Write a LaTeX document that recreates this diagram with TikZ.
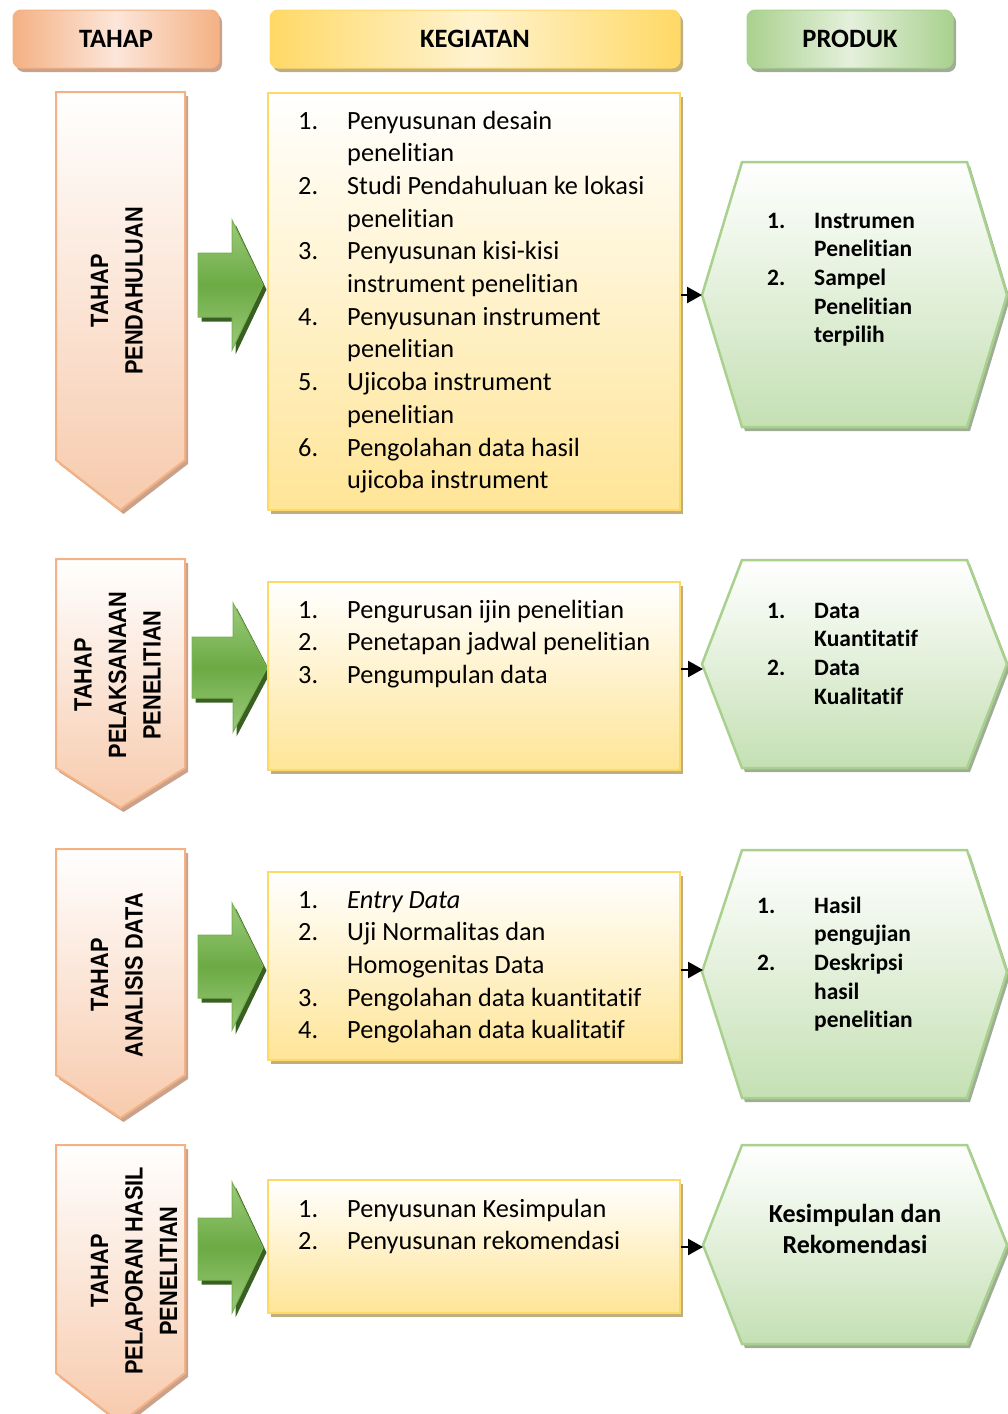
\documentclass[tikz,border=0pt]{standalone}
\usepackage{fontspec}
\setmainfont{Carlito}[RawFeature={-liga;-clig;-calt;-dlig}]
\newfontfamily\tahapfont[FakeStretch=0.87]{Liberation Sans}
\usetikzlibrary{arrows.meta,shadows}
\definecolor{orE}{HTML}{F4B183}
\definecolor{orL}{HTML}{FCE6DA}
\definecolor{orB}{HTML}{F7CAAC}
\definecolor{orS}{HTML}{C8A28C}
\definecolor{ylE}{HTML}{FFD966}
\definecolor{ylL}{HTML}{FFF3D0}
\definecolor{ylB}{HTML}{FFE597}
\definecolor{ylS}{HTML}{BFAE80}
\definecolor{grE}{HTML}{A9D18E}
\definecolor{grL}{HTML}{E4F0DC}
\definecolor{grB}{HTML}{C5E0B4}
\definecolor{grS}{HTML}{9EAE94}
\definecolor{arG}{HTML}{6CAA44}
\definecolor{arL}{HTML}{9BCB7B}
\definecolor{arD}{HTML}{3A5F22}
\definecolor{arE}{HTML}{78B251}
\begin{document}
\begin{tikzpicture}[x=1pt,y=-1pt,
  sh/.style={drop shadow={shadow xshift=3pt,shadow yshift=-4pt,opacity=1,fill=#1}},
  hdr/.style={rounded corners=8pt, minimum height=58pt, line width=1pt, inner sep=0pt,
    font=\bfseries\fontsize{26.5}{30}\selectfont, shading angle=45},
  hdrT/.style={hdr, draw=orE, left color=orE, right color=orE, middle color=orL, sh=orS, minimum width=206pt},
  hdrK/.style={hdr, draw=ylE, left color=ylE, right color=ylE, middle color=ylL, sh=ylS, minimum width=410pt},
  hdrP/.style={hdr, draw=grE, left color=grE, right color=grE, middle color=grL, sh=grS, minimum width=206pt},
  pent/.style={draw=orE, line width=2pt, top color=white, bottom color=orB, sh=orS},
  ttext/.style={rotate=90, align=center, inner sep=0pt, font=\tahapfont\bfseries\fontsize{25}{34.5}\selectfont},
  keg/.style={draw=ylE, line width=2pt, top color=white, bottom color=ylB, minimum width=412pt, inner sep=0pt, sh=ylS},
  klist/.style={anchor=base west, inner sep=0pt, font=\fontsize{26.3}{32.7}\selectfont},
  hex/.style={draw=grE, line width=2.5pt, top color=white, bottom color=grB, sh=grS},
  hlist/.style={anchor=base west, inner sep=0pt, font=\bfseries\fontsize{23.5}{28.7}\selectfont},
  garrow/.style={draw=arE, line width=1pt, top color=arL, bottom color=arL, middle color=arG,
    drop shadow={shadow xshift=3.5pt,shadow yshift=-4.5pt,opacity=1,fill=arD}},
  conn/.style={-{Triangle[length=15pt,width=16pt]}, line width=2.4pt}
]
\useasboundingbox (0,0) rectangle (1008,1414);

% headers
\node[hdrT] (hT) at (116,39) {TAHAP};
\node[hdrK] (hK) at (475,39) {KEGIATAN};
\node[hdrP] (hP) at (850,39) {PRODUK};

% pentagons
\path[pent] (56,92) -- (185,92) -- (185,460) -- (120.5,510) -- (56,460) -- cycle;
\path[pent] (56,559) -- (185,559) -- (185,768) -- (120.5,808) -- (56,768) -- cycle;
\path[pent] (56,849) -- (185,849) -- (185,1075) -- (120.5,1118) -- (56,1075) -- cycle;
\path[pent] (56,1145) -- (185,1145) -- (185,1373) -- (120.5,1423) -- (56,1373) -- cycle;
\node[ttext] (t1) at (117,291) {TAHAP\\PENDAHULUAN};
\node[ttext] (t2) at (117.5,675) {TAHAP\\PELAKSANAAN\\PENELITIAN};
\node[ttext] (t3) at (117,975) {TAHAP\\ANALISIS DATA};
\node[ttext] (t4) at (134,1271) {TAHAP\\PELAPORAN HASIL\\PENELITIAN};

% green arrows
\path[garrow] (198,253) -- (232,253) -- (232,220) -- (263,285) -- (232,350) -- (232,317) -- (198,317) -- cycle;
\path[garrow] (192,637) -- (233,637) -- (233,603) -- (267,668) -- (233,732) -- (233,698) -- (192,698) -- cycle;
\path[garrow] (198,935) -- (232,935) -- (232,903) -- (263,966) -- (232,1030) -- (232,998) -- (198,998) -- cycle;
\path[garrow] (198,1218) -- (232,1218) -- (232,1182) -- (263,1248) -- (232,1313) -- (232,1280) -- (198,1280) -- cycle;

% kegiatan boxes
\node[keg, minimum height=417pt] (k1) at (474,301.5) {};
\node[keg, minimum height=188pt] (k2) at (474,676) {};
\node[keg, minimum height=188pt] (k3) at (474,966) {};
\node[keg, minimum height=133pt] (k4) at (474,1246.5) {};

\node[klist] (kl1) at (298,129) {\begin{tabular}[t]{@{}p{49pt}@{}l@{}}
1. & Penyusunan desain\\
   & penelitian\\
2. & Studi Pendahuluan ke lokasi\\
   & penelitian\\
3. & Penyusunan kisi-kisi\\
   & instrument penelitian\\
4. & Penyusunan instrument\\
   & penelitian\\
5. & Ujicoba instrument\\
   & penelitian\\
6. & Pengolahan data hasil\\
   & ujicoba instrument
\end{tabular}};
\node[klist] (kl2) at (298,618) {\begin{tabular}[t]{@{}p{49pt}@{}l@{}}
1. & Pengurusan ijin penelitian\\
2. & Penetapan jadwal penelitian\\
3. & Pengumpulan data
\end{tabular}};
\node[klist] (kl3) at (298,908) {\begin{tabular}[t]{@{}p{49pt}@{}l@{}}
1. & \textit{Entry Data}\\
2. & Uji Normalitas dan\\
   & Homogenitas Data\\
3. & Pengolahan data kuantitatif\\
4. & Pengolahan data kualitatif
\end{tabular}};
\node[klist] (kl4) at (298,1217) {\begin{tabular}[t]{@{}p{49pt}@{}l@{}}
1. & Penyusunan Kesimpulan\\
2. & Penyusunan rekomendasi
\end{tabular}};

% hexagons
\path[hex] (702,295) -- (742,162) -- (967,162) -- (1007,295) -- (967,427) -- (742,427) -- cycle;
\path[hex] (702,664) -- (742,560) -- (967,560) -- (1007,664) -- (967,768) -- (742,768) -- cycle;
\path[hex] (702,972) -- (742,850) -- (967,850) -- (1007,972) -- (967,1098) -- (742,1098) -- cycle;
\path[hex] (703,1245) -- (742,1145) -- (967,1145) -- (1007,1245) -- (967,1344) -- (742,1344) -- cycle;
\coordinate (hx1) at (702,295);
\coordinate (hx2) at (703,669);
\coordinate (hx3) at (703,970);
\coordinate (hx4) at (703,1247);

\node[hlist] (p1) at (767,228) {\begin{tabular}[t]{@{}p{47pt}@{}l@{}}
1. & Instrumen\\
   & Penelitian\\
2. & Sampel\\
   & Penelitian\\
   & terpilih
\end{tabular}};
\node[hlist] (p2) at (767,618) {\begin{tabular}[t]{@{}p{47pt}@{}l@{}}
1. & Data\\
   & Kuantitatif\\
2. & Data\\
   & Kualitatif
\end{tabular}};
\node[hlist] (p3) at (757,913) {\begin{tabular}[t]{@{}p{57pt}@{}l@{}}
1. & Hasil\\
   & pengujian\\
2. & Deskripsi\\
   & hasil\\
   & penelitian
\end{tabular}};
\node[anchor=base, inner sep=0pt, font=\bfseries\fontsize{26}{31.5}\selectfont] (p4) at (855,1222) {\begin{tabular}[t]{@{}c@{}}
Kesimpulan dan\\
Rekomendasi
\end{tabular}};

% connectors
\draw[conn] (k1.east |- hx1) -- (hx1);
\draw[conn] (k2.east |- hx2) -- (hx2);
\draw[conn] (k3.east |- hx3) -- (hx3);
\draw[conn] (k4.east |- hx4) -- (hx4);
\end{tikzpicture}
\end{document}
